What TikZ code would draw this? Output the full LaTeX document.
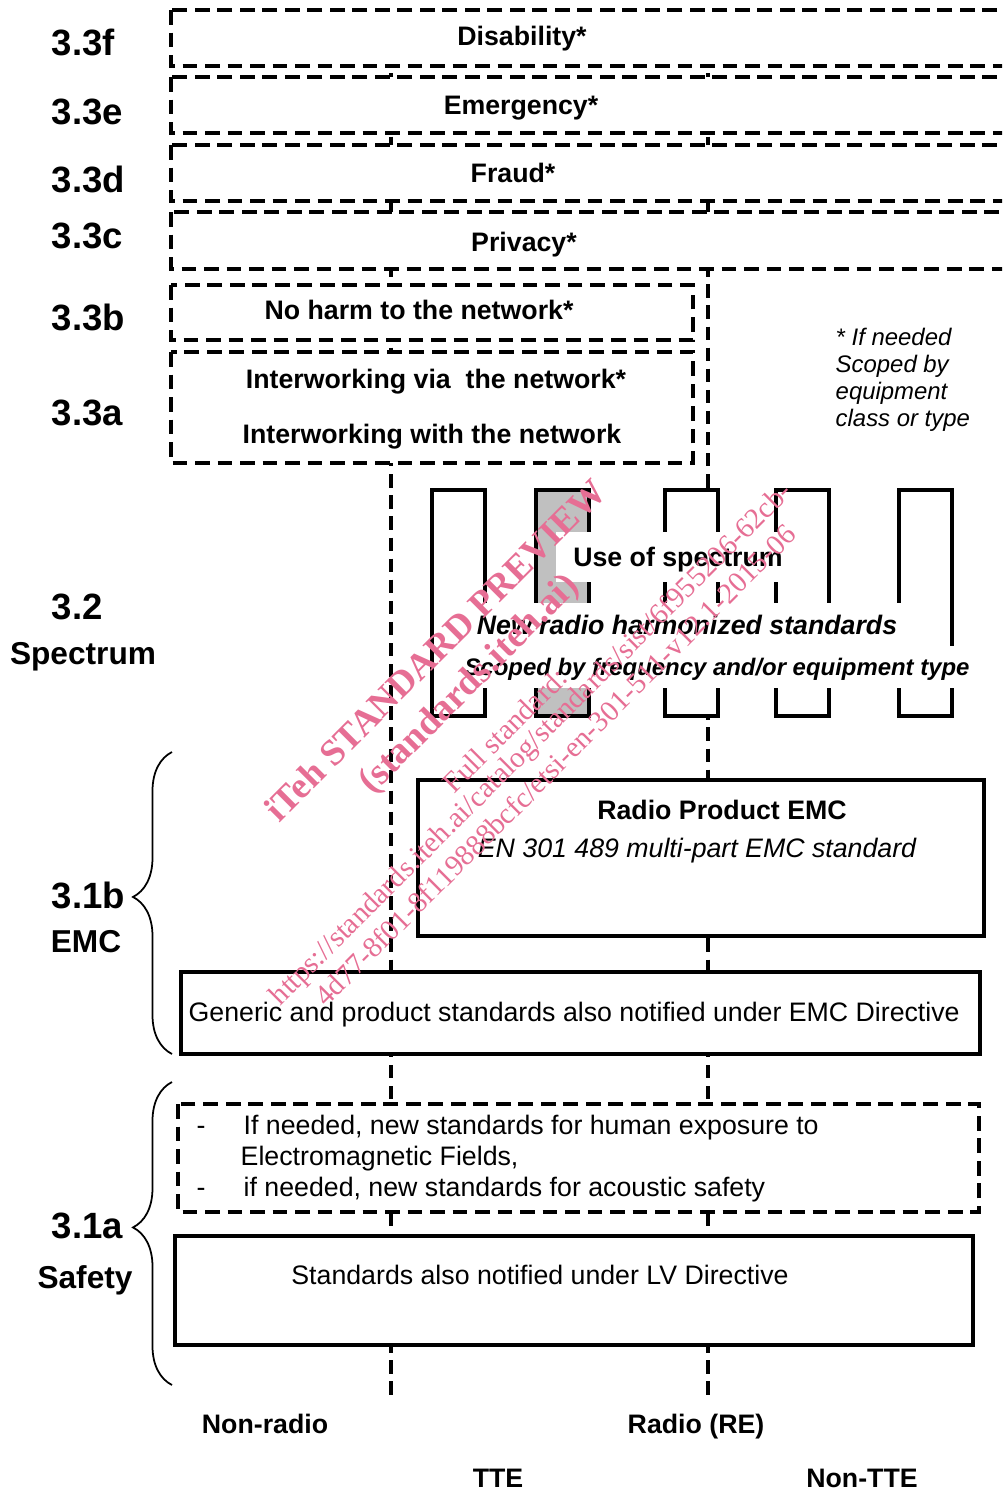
\documentclass[tikz,border=0pt]{standalone}
\usepackage{fontspec}
\setmainfont{Liberation Sans}
\newfontfamily\wmserif{Liberation Serif}
\usetikzlibrary{decorations.pathreplacing}

\definecolor{toothgray}{RGB}{192,192,192}
\definecolor{wmpink}{RGB}{230,110,148}

\newcommand{\rowfont}{\fontsize{7.6}{9}\selectfont}
\newcommand{\notefont}{\fontsize{6.8}{7.7}\selectfont}
\newcommand{\clausefont}{\fontsize{10.4}{12}\selectfont\bfseries}
\newcommand{\areafont}{\fontsize{9}{11}\selectfont\bfseries}

\begin{document}
\begin{tikzpicture}[x=0.01cm, y=-0.01cm]
    \tikzstyle{rowtext} = [inner sep=0, text height=5.4pt, text depth=0pt, font=\rowfont\bfseries]
    \tikzstyle{regtext} = [inner sep=0, text height=5.4pt, text depth=0pt, font=\rowfont]
    \tikzstyle{clauselabel} = [anchor=west, inner sep=0, text height=7.4pt, text depth=0pt, font=\clausefont]
    \tikzstyle{arealabel} = [inner sep=0, text height=6.4pt, text depth=0pt, font=\areafont]
    \tikzstyle{dashbox} = [draw, fill=white, line width=1pt, dash pattern=on 4.2pt off 2.2pt]
    \tikzstyle{solidbox} = [draw, fill=white, line width=1pt]
    \tikzstyle{divider} = [line width=1pt, dash pattern=on 3.8pt off 2.2pt]
    \tikzstyle{tooth} = [draw, line width=1pt]
    \tikzstyle{blank} = [fill=white, inner sep=0]
    \tikzstyle{curly} = [decorate, decoration={brace, amplitude=0.39cm, aspect=0.52}, line width=0.5pt]
    \tikzstyle{wm} = [text=wmpink, rotate=45, inner sep=0]

    \useasboundingbox (0,0) rectangle (1002,1490);
    \clip (0,0) rectangle (1002,1490);

    % Dividers -----------------------------------------
    \coordinate (tteTop) at (391,10);
    \coordinate (tteBot) at (391,1398);
    \coordinate (radTop) at (708,10);
    \coordinate (radBot) at (708,1398);
    \draw[divider] (tteTop) -- (tteBot);
    \draw[divider] (radTop) -- (radBot);

    % Clause 3.3 rows ----------------------------------
    \draw[dashbox] (171,10) rectangle (1012,66);
    \node[rowtext] (disab) at (522,36) {Disability*};
    \draw[dashbox] (171,77) rectangle (1012,133);
    \node[rowtext] (emerg) at (521,105) {Emergency*};
    \draw[dashbox] (171,145) rectangle (1012,201);
    \node[rowtext] (fraud) at (513,173) {Fraud*};
    \draw[dashbox] (171,212) rectangle (1012,269);
    \node[rowtext] (priv) at (524,242) {Privacy*};
    \draw[dashbox] (171,285) rectangle (693,340);
    \node[rowtext] (noharm) at (419,310) {No harm to the network*};
    \draw[dashbox] (171,352) rectangle (693,463);
    \node[rowtext] (iwvia) at (436,379) {Interworking via\ \ the network*};
    \node[rowtext] (iwwith) at (432,434) {Interworking with the network};

    \node[align=left, anchor=west, inner sep=0, font=\notefont\itshape] (note) at (835,380)
        {* If needed\\Scoped by\\equipment\\class or type};

    % Spectrum comb ------------------------------------
    \foreach \x/\c in {432/white, 536/toothgray, 665/white, 776/white, 899/white}
        \draw[tooth, fill=\c] (\x,490) rectangle ++(53,226);

    \node[blank, rowtext, minimum width=2.44cm, minimum height=0.5cm] (usespec) at (678,557) {Use of spectrum};
    \node[blank, rowtext, font=\rowfont\bfseries\itshape, minimum width=4.84cm, minimum height=0.44cm]
        (newradio) at (687,625) {New radio harmonized standards};
    \node[blank, rowtext, text height=4.9pt, font=\notefont\bfseries\itshape, minimum width=5.44cm, minimum height=0.42cm]
        (scoped) at (717,667) {Scoped by frequency and/or equipment type};

    % EMC ----------------------------------------------
    \draw[solidbox] (418,780) rectangle (984,936);
    \node[rowtext] (rpemc) at (722,810) {Radio Product EMC};
    \node[regtext, font=\rowfont\itshape] (en489) at (697,848) {EN 301 489 multi-part EMC standard};
    \draw[solidbox] (181,972) rectangle (980,1054);
    \node[regtext, anchor=west] (generic) at (188,1012) {Generic and product standards also notified under EMC Directive};

    % Safety -------------------------------------------
    \draw[dashbox] (178,1104) rectangle (979,1212);
    \node[regtext, anchor=west] (dashA) at (196,1125) {-};
    \node[regtext, anchor=west] (emfA) at (243,1125) {If needed, new standards for human exposure to};
    \node[regtext, anchor=west] (emfB) at (240,1156) {Electromagnetic Fields,};
    \node[regtext, anchor=west] (dashB) at (196,1187) {-};
    \node[regtext, anchor=west] (acoustic) at (243,1187) {if needed, new standards for acoustic safety};
    \draw[solidbox] (175,1236) rectangle (973,1345);
    \node[regtext] (lvd) at (540,1275) {Standards also notified under LV Directive};

    % Braces
    \coordinate (emcLow) at (172,1054);
    \coordinate (emcHigh) at (172,752);
    \draw[curly] (emcLow) -- (emcHigh);
    \coordinate (safLow) at (172,1385);
    \coordinate (safHigh) at (172,1082);
    \draw[curly] (safLow) -- (safHigh);

    % Clause labels ------------------------------------
    \node[clauselabel] (c33f) at (51,42) {3.3f};
    \node[clauselabel] (c33e) at (51,111) {3.3e};
    \node[clauselabel] (c33d) at (51,179) {3.3d};
    \node[clauselabel] (c33c) at (51,235) {3.3c};
    \node[clauselabel] (c33b) at (51,317) {3.3b};
    \node[clauselabel] (c33a) at (51,412) {3.3a};
    \node[clauselabel] (c32) at (51,606) {3.2};
    \node[arealabel] (spectrum) at (83,653) {Spectrum};
    \node[clauselabel] (c31b) at (51,895) {3.1b};
    \node[arealabel] (emc) at (86,941) {EMC};
    \node[clauselabel] (c31a) at (51,1225) {3.1a};
    \node[arealabel] (safety) at (85,1277) {Safety};

    % Equipment classes --------------------------------
    \node[rowtext] (nonradio) at (265,1424) {Non-radio};
    \node[rowtext] (radio) at (696,1424) {Radio (RE)};
    \node[rowtext] (tte) at (498,1478) {TTE};
    \node[rowtext] (nontte) at (862,1478) {Non-TTE};

    % Watermark ----------------------------------------
    \node[wm, font=\wmserif\fontsize{10.5}{12}\selectfont\bfseries] (wmA) at (435,650) {iTeh STANDARD PREVIEW};
    \node[wm, font=\wmserif\fontsize{10.7}{12}\selectfont\bfseries] (wmB) at (470,685) {(standards.iteh.ai)};
    \node[wm, font=\wmserif\fontsize{8.3}{9}\selectfont] (wmC) at (505,730) {Full standard:};
    \node[wm, font=\wmserif\fontsize{8.3}{9}\selectfont] (wmD) at (532,745) {https://standards.iteh.ai/catalog/standards/sist/6f955206-62cb-};
    \node[wm, font=\wmserif\fontsize{8.3}{9}\selectfont] (wmE) at (555,765) {4d77-8f01-8f119888bcfc/etsi-en-301-511-v12.1-2015-06};
\end{tikzpicture}
\end{document}
